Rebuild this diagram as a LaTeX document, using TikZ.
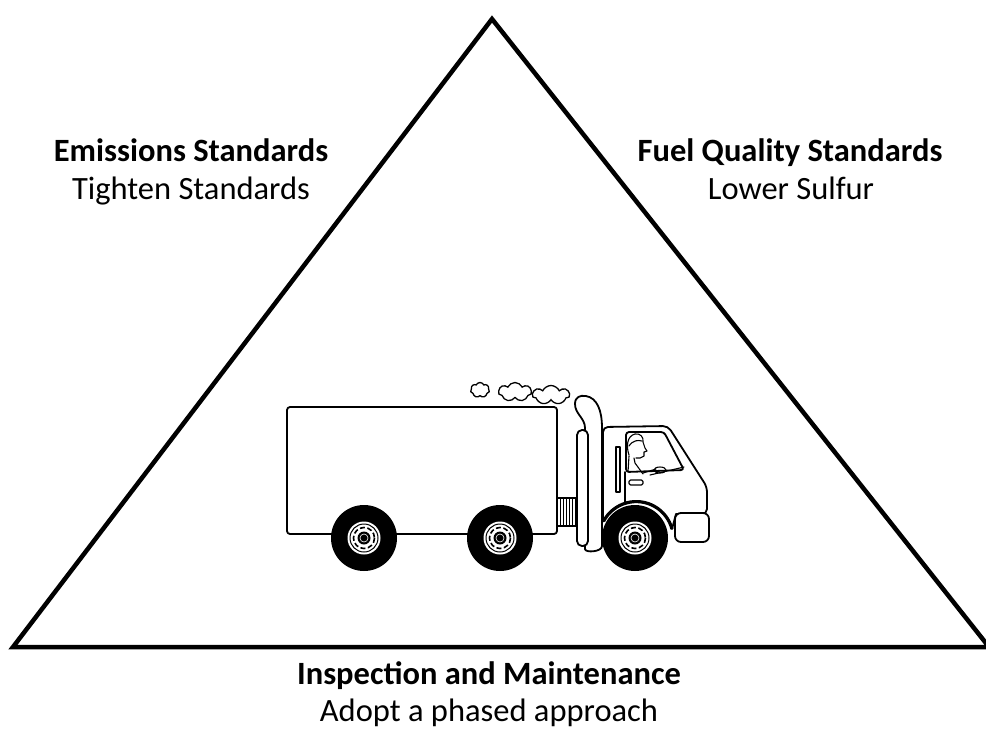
\documentclass[tikz,border=0pt]{standalone}
\usepackage{fontspec}
\setmainfont{Carlito}
\usetikzlibrary{shapes.symbols}
\tikzset{
  tri/.style={line width=4.5pt, line join=miter},
  truck/.style={line width=1.8pt, line join=round, line cap=round},
  thinline/.style={line width=1.1pt, line join=round, line cap=round},
  lbl/.style={font=\fontsize{32.5}{38}\selectfont, anchor=base, inner sep=0pt},
  hd/.style={font=\fontsize{32.5}{38}\selectfont\bfseries, anchor=base, inner sep=0pt},
  puff/.style={cloud, draw, fill=white, line width=1.3pt, cloud puffs=7, cloud puff arc=130, inner sep=0pt, aspect=1.6},
}
\begin{document}
\begin{tikzpicture}[x=1pt,y=1pt,yscale=-1]
\useasboundingbox (0,0) rectangle (986,729);
% triangle
\coordinate (A) at (492,19);
\coordinate (B) at (13,647);
\coordinate (C) at (989,647);
\draw[tri] (A) -- (B) -- (C) -- cycle;

% labels
\node[hd]  (em1) at (191,161) {Emissions Standards};
\node[lbl] (em2) at (191,199) {Tighten Standards};
\node[hd]  (fq1) at (790,161) {Fuel Quality Standards};
\node[lbl] (fq2) at (791,199) {Lower Sulfur};
\node[hd]  (im1) at (489,684) {Inspection and Maintenance};
\node[lbl] (im2) at (489,721) {Adopt a phased approach};

% cargo box
\draw[truck, fill=white, rounded corners=3] (287,407) rectangle (557,534);
% grille
\draw[truck, fill=white] (557,498) rectangle (577,526);
\foreach \gx in {560,563,...,575} \draw[line width=0.8pt] (\gx,499) -- (\gx,525);

% cab body
\draw[truck, fill=white] (603,521.5) [rounded corners=5] -- (603,427) -- (668,426) -- (707,487) -- (707,514) [sharp corners] -- (676,514) -- (672,529) arc[start angle=-15, end angle=-150, radius=37] -- cycle;
% wheel arch band
\draw[line width=3.2pt] (672,529) arc[start angle=-15, end angle=-152, radius=37];

% exhaust stack
\draw[truck, fill=white] (585,549) -- (585,428) .. controls (585,418) and (575,414) .. (575,404) .. controls (575,397) and (580,395) .. (586,396) .. controls (597,398) and (602,410) .. (602,428) -- (602,546) .. controls (602,552) and (585,553) .. (585,549) -- cycle;
\draw[truck, fill=white, rounded corners=5] (577,546) -- (577,430) -- (588,430) -- (588,546) -- cycle;

% window
\draw[truck, rounded corners=3] (626,432) -- (664,432) -- (684,470) -- (626,472) -- cycle;
\draw[truck] (625,472) -- (625,503);
% grab bar and handle
\draw[thinline] (616,447) rectangle (620,492);
\draw[thinline, rounded corners=1.5] (629,480) rectangle (643,485);

% driver
\draw[thinline] (629,455) .. controls (626,446) and (627,436) .. (635,434) .. controls (640,433) and (644,437) .. (643,442) -- (645,448) -- (647,451) -- (644,452) -- (644,456) -- (640,458) -- (636,458);
\draw[thinline] (629,446) .. controls (633,440) and (638,440) .. (642,441);
\draw[thinline] (634,458) -- (635,463) -- (643,474);
\draw[thinline] (629,456) -- (628,472);
\draw[thinline] (643,473) -- (656,469);
\draw[thinline] (660,470) ellipse [x radius=6, y radius=3];
\draw[thinline] (650,475) -- (684,467);

% bumper
\draw[truck, fill=white, rounded corners=6] (675,513) rectangle (709,542);

% wheels
\foreach \wx/\wy in {364/538, 500/538, 635/538} {
  \fill (\wx,\wy) circle (33);
  \fill[white] (\wx,\wy) circle (16.5);
  \draw[line width=1pt] (\wx,\wy) circle (14);
  \draw[line width=1.6pt, dash pattern=on 5pt off 2.5pt] (\wx,\wy) circle (10.5);
  \fill (\wx,\wy) circle (6.5);
  \draw[white, line width=0.6pt] (\wx,\wy) circle (4);
}

% smoke puffs
\node[puff, minimum width=19pt, minimum height=15pt] (s1) at (480,390) {};
\node[puff, minimum width=33pt, minimum height=19pt] (s2) at (515,392) {};
\node[puff, minimum width=37pt, minimum height=19pt] (s3) at (551,395) {};
\end{tikzpicture}
\end{document}
